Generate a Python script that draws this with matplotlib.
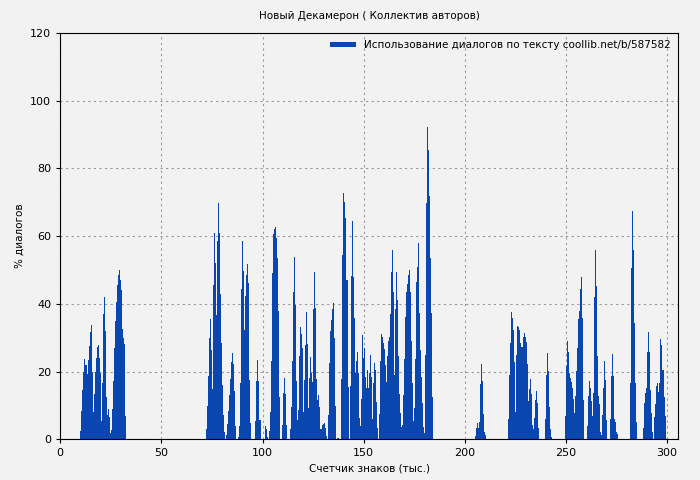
import numpy as np
from matplotlib import pyplot as plt

# segments: (start in thousand chars, values at 0.5 step)
seg1_start = 10
seg1 = [2.5, 8.3, 14.5, 20, 23.6, 21.9, 19.2, 23.3, 27.5, 31.6, 33.7, 20, 8, 13.3,
        19.8, 23.9, 27.2, 27.8, 24, 19.5, 5.3, 16.6, 37, 42, 31.9, 12.4, 7.1, 8.9,
        6.5, 1.8, 2.7, 8.9, 17.1, 27, 35, 40.5, 45.5, 48.5, 50, 47, 44, 32.5, 30, 28, 7]
seg2_start = 72
seg2 = [3, 9.8, 18.6, 29.8, 35.5, 26.3, 14.8, 45.5, 61, 52, 36.7, 58.5, 69.8, 61, 43,
        28.4, 16, 7.1, 2, 0, 1.2, 4.4, 8.3, 13, 17.7, 22.8, 25.4, 22.2, 14.2, 4, 0, 0,
        0.6, 3.8, 16.6, 44.3, 58.5, 49.7, 32.2, 42.3, 48.5, 51.7, 46.1, 17.4, 4.7, 0, 0,
        0, 0, 5.3, 17.1, 23.4, 17.1, 5.6, 0, 0, 0, 0, 4, 3, 0.6, 0, 2.4, 8, 23, 49, 60.6,
        62, 62.7, 59.4, 53.5, 37.8, 12.4, 0, 0, 4.1, 13.6, 18, 13.3, 4.1, 0, 0, 0, 2.9,
        9.5, 23, 43.4, 53.8, 39.6, 17.1, 5.6, 8.6, 24.5, 33.1]
seg3_start = 119
seg3 = [31, 26.9, 8, 17.4, 27.8, 37.5, 28, 9.2, 18, 24.2, 19.5, 16.9, 38.4, 49.3, 38.7,
        17.7, 11.5, 13, 9.5, 3, 3, 4.1, 4.4, 4.7, 3.2, 0.9, 0, 7.1, 22.5, 31.9, 35.2, 38.4,
        40.2, 29.8, 9.8, 0, 0.5, 0.3, 0, 0, 17.7, 54.4, 72.7, 70, 65.3, 47, 15.4, 0, 15.7,
        48.2, 64.4, 47.9, 35.8, 19.5, 23, 25.7, 19.5, 6.2, 3.8, 11.8, 30.7, 24, 26.9, 18.3,
        15, 20.4, 15, 19.5, 24.8, 18.3]
seg4_start = 154
seg4 = [5.9, 16.6, 22.5, 20.4, 10.9, 3.2, 0, 7.4, 23, 31, 30.2, 28.4, 26.6, 21.9, 16.9,
        24.5, 29, 30.2, 37, 49.3, 55.9, 43.4, 18.9, 38.4, 49.3, 41.1, 24.5, 13.3, 7.7, 3.5,
        4.1, 13, 23.6, 36, 43.4, 45.8, 48.5, 50, 43.4, 29, 16.6, 5.3, 9.2, 23.6, 46.4, 50.8,
        57.9, 37.2, 26.3, 18.3, 10.6, 3.5, 1.8, 24.8, 69.8, 92.2, 85.4, 71.8, 53.5, 37.2,
        12.4]
seg5_start = 205
seg5 = [0.9, 3.2, 4.7, 3.2, 5, 16.3, 22.2, 17.1, 7.4, 2.1, 1.2]
seg6_start = 221.5
seg6 = [5.9, 18.9, 28.4, 37.5, 35.8, 32.2, 22.8, 8, 24.8, 33.4, 33.1, 32.2, 28.4, 27.2,
        30.2, 31.3, 30.2, 28.7, 22.2, 11.2, 14.8, 17.7, 13.3, 4.1, 3, 6.2, 11.5, 14.2,
        10.6, 3.2, 0, 0, 0, 0, 0, 0, 5.9, 18.9, 25.4, 20.1, 9.5, 3, 0.6]
seg7_start = 249.5
seg7 = [6.8, 21.6, 29, 25.7, 19.5, 18, 16.9, 15, 11.8, 7.7, 12.7, 20.1, 26.9, 35.5, 37.8,
        44.3, 47.9, 35.8, 11.5, 0, 0, 0, 3.8, 12.7, 17.1, 15, 11.2, 6.8, 13.6, 42, 55.9,
        45.2, 24.5, 12.7, 10.3, 2, 1.2, 7.1, 15, 23, 17.4, 5.6, 0, 0, 5.9, 18.6, 25.1, 18.6,
        5.9, 5, 2, 1.5, 0, 0, 0, 0, 0, 0, 0, 0, 0, 0, 0, 0, 16.6, 50.5, 67.4, 55.9, 34.3,
        16.6, 5, 0, 0, 0, 0, 0, 0, 3.2, 10.6, 13.6, 15, 25.7, 31.6, 25.7, 14.5, 7.7, 2, 0,
        6.5, 10.3, 15.7, 16.6, 13.9, 16.6, 29.6, 27.8, 20.4, 20.4, 12.4, 6.8]

segments = [(seg1_start, seg1), (seg2_start, seg2), (seg3_start, seg3), (seg4_start, seg4),
            (seg5_start, seg5), (seg6_start, seg6), (seg7_start, seg7)]

xs, ys = [], []
for start, vals in segments:
    xs.extend(start + 0.5 * np.arange(len(vals)))
    ys.extend(vals)

bg = '#f2f2f2'
fig = plt.figure(figsize=(7, 4.8), dpi=100, facecolor=bg)
ax = fig.add_axes([0.086, 0.085, 0.883, 0.846], facecolor=bg)
ax.bar(xs, ys, width=0.5, align='edge', color='#0a46b0', linewidth=0,
       label='Использование диалогов по тексту coollib.net/b/587582')

ax.set_xlim(0, 305.5)
ax.set_ylim(0, 120)
ax.set_xticks([0, 50, 100, 150, 200, 250, 300])
ax.set_yticks([0, 20, 40, 60, 80, 100, 120])
ax.grid(True, color='#999999', linestyle=(0, (2, 3)), linewidth=0.8)
ax.set_axisbelow(True)
ax.tick_params(labelsize=8, length=3)

ax.set_title('Новый Декамерон ( Коллектив авторов)', fontsize=7.5, pad=10)
ax.set_xlabel('Счетчик знаков (тыс.)', fontsize=7.5)
ax.set_ylabel('% диалогов', fontsize=7.5)
ax.legend(loc='upper right', frameon=False, fontsize=7.5, handlelength=2.5,
          handleheight=0.4, borderaxespad=0.3)

fig.savefig('out.png', dpi=100, facecolor=bg)
